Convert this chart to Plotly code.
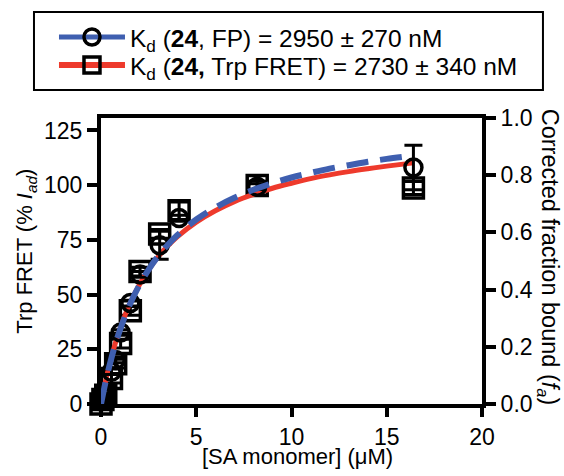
import plotly.graph_objects as go

# ---- data ----
conc = [0, 0.1, 0.25, 0.55, 0.77, 1.03, 1.54, 2.05, 3.08, 4.1, 8.2, 16.4]
fp_frac = [0.01, 0.026, 0.021, 0.113, 0.154, 0.25, 0.353, 0.453, 0.555, 0.65, 0.76, 0.827]
fp_err = [0.005, 0.005, 0.005, 0.01, 0.01, 0.01, 0.01, 0.01, 0.049, 0.01, 0.01, 0.078]
fret_pct = [0, 2, 4, 11.6, 18.4, 27.6, 42.6, 60.5, 77.7, 88.3, 99.8, 98.7]
fret_err = [1, 1, 1, 2, 2, 2, 2, 2, 2, 4, 2, 3]

curve_x = [0, 0.25, 0.5, 0.75, 1, 1.5, 2, 2.5, 3, 3.5, 4, 5, 6, 7, 8, 9, 10, 11, 12, 13, 14, 15, 16.4]
fp_curve = [0, 0.080, 0.149, 0.208, 0.260, 0.346, 0.414, 0.470, 0.517, 0.556, 0.590, 0.645,
            0.687, 0.721, 0.749, 0.772, 0.792, 0.808, 0.823, 0.835, 0.847, 0.857, 0.869]
fret_curve = [0, 10.8, 19.9, 27.7, 34.5, 45.6, 54.3, 61.4, 67.3, 72.2, 76.4, 83.1,
              88.3, 92.5, 95.8, 98.6, 100.9, 103.0, 104.7, 106.2, 107.5, 108.7, 110.2]

x_ticks = [0, 5, 10, 15, 20]
y_ticks = [0, 25, 50, 75, 100, 125]
y2_ticks = [0, 0.2, 0.4, 0.6, 0.8, 1.0]

fp_label = "K<sub>d</sub> (<b>24</b>, FP) = 2950 ± 270 nM"
fret_label = "K<sub>d</sub> (<b>24,</b> Trp FRET) = 2730 ± 340 nM"

BLUE = "#3f5fb0"
RED = "#ee3a2c"
FONT = "Liberation Sans, Arial, Helvetica, sans-serif"

fig = go.Figure()

# data markers
fig.add_trace(go.Scatter(
    x=conc, y=fret_pct, mode="markers", yaxis="y", cliponaxis=False, showlegend=False,
    marker=dict(symbol="square-open", size=20, color="black", line=dict(width=3.5)),
    error_y=dict(type="data", array=fret_err, color="black", thickness=3, width=9)))
fig.add_trace(go.Scatter(
    x=conc, y=fp_frac, mode="markers", yaxis="y2", cliponaxis=False, showlegend=False,
    marker=dict(symbol="circle-open", size=17, color="black", line=dict(width=3.5)),
    error_y=dict(type="data", array=fp_err, color="black", thickness=3, width=9)))

# fitted curves
fig.add_trace(go.Scatter(
    x=curve_x, y=fret_curve, mode="lines", yaxis="y", showlegend=False,
    line=dict(color=RED, width=5, shape="spline")))
fig.add_trace(go.Scatter(
    x=curve_x, y=fp_curve, mode="lines", yaxis="y2", showlegend=False,
    line=dict(color=BLUE, width=6, dash="22px,12px", shape="spline")))

# legend entries (one legend per row)
fig.add_trace(go.Scatter(
    x=[None], y=[None], mode="lines+markers", name=fp_label, legend="legend",
    line=dict(color=BLUE, width=5),
    marker=dict(symbol="circle-open", size=16, color="black", line=dict(width=3.5))))
fig.add_trace(go.Scatter(
    x=[None], y=[None], mode="lines+markers", name=fret_label, legend="legend2",
    line=dict(color=RED, width=6),
    marker=dict(symbol="square-open", size=16, color="black", line=dict(width=3.5))))

axis_common = dict(showgrid=False, zeroline=False, showline=True, linecolor="black",
                   linewidth=4, ticks="outside", tickwidth=4, tickcolor="black",
                   tickfont=dict(family=FONT, size=23, color="black"))

legend_common = dict(xanchor="left", yanchor="middle", borderwidth=0,
                     bgcolor="rgba(0,0,0,0)", itemwidth=66,
                     font=dict(family=FONT, size=24.5, color="black"))

fig.update_layout(
    width=564, height=476,
    margin=dict(l=101, r=82, t=118, b=72, autoexpand=False),
    paper_bgcolor="white", plot_bgcolor="white",
    font=dict(family=FONT, size=22, color="black"),
    xaxis=dict(range=[0, 20], tickvals=x_ticks, mirror=True, ticklen=9, **axis_common),
    yaxis=dict(range=[0, 130.7], tickvals=y_ticks, ticklen=10, **axis_common),
    yaxis2=dict(range=[0, 1.0], tickvals=y2_ticks, tickformat=".1f", overlaying="y",
                side="right", ticklen=10, **axis_common),
    legend=dict(x=-0.1234, y=1.283, **legend_common),
    legend2=dict(x=-0.1234, y=1.185, **legend_common),
    shapes=[dict(type="rect", xref="paper", yref="paper", x0=-0.1759, x1=1.160,
                 y0=1.098, y1=1.371, line=dict(color="black", width=2),
                 fillcolor="rgba(0,0,0,0)", layer="below")],
    annotations=[
        dict(text="[SA monomer] (μM)", xref="paper", yref="paper", x=0.517, y=-0.1853,
             xanchor="center", yanchor="middle", showarrow=False,
             font=dict(family=FONT, size=22, color="black")),
        dict(text="Trp FRET (% <i>I</i><sub><i>ad</i></sub>)", xref="paper", yref="paper",
             x=-0.197, y=0.536, xanchor="center", yanchor="middle", textangle=-90,
             showarrow=False, font=dict(family=FONT, size=22, color="black")),
        dict(text="Corrected fraction bound (<i>f</i><sub><i>a</i></sub>)", xref="paper",
             yref="paper", x=1.174, y=0.514, xanchor="center", yanchor="middle",
             textangle=90, showarrow=False, font=dict(family=FONT, size=23.5, color="black")),
    ],
)

fig.write_html("out.html", config={"displayModeBar": False},
               post_script="document.body.style.margin='0px';document.body.style.padding='0px';")
